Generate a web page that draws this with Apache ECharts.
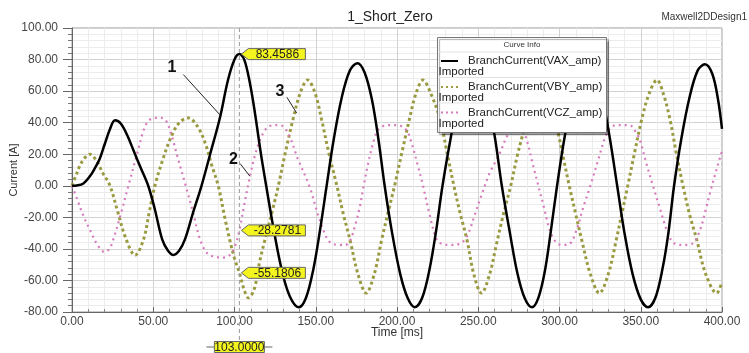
<!DOCTYPE html>
<html><head><meta charset="utf-8">
<script src="https://cdn.jsdelivr.net/npm/echarts@6/dist/echarts.min.js"></script>
<style>html,body{margin:0;padding:0;background:#fff}#c{width:749px;height:353px}</style>
</head><body><div id="c"></div>
<script>
// ---- data (time [ms], current [A]) ----
const vaxData = [[0,0],[3,0.2],[7,1.5],[11,6],[14,11],[17,17],[20,26],[23.4,36],[26.5,41.5],[30,39.5],[34,32],[38,22],[42,12],[46.9,0],[51,-15],[55.5,-34],[59,-41],[62.4,-43.8],[66,-41],[69.5,-34],[74.5,-17],[79.7,0],[85,20],[91,43],[96,67],[100,80],[103,83.46],[106,80],[109.5,65],[112.6,46],[116,22],[119.5,0],[124,-27],[129,-53],[134,-70],[139.6,-77],[144,-71],[148.5,-53],[152.5,-29],[156.7,0],[161,29],[166,56],[171,73],[175.6,77.7],[180,72],[184.5,55],[188.5,30],[192.4,0],[197,-30],[202,-56],[206.5,-71],[211,-77],[215.5,-71],[220,-53],[224,-29],[228,0],[233,30],[238,56],[242.5,72],[247,77],[251.5,72],[256,55],[260.5,29],[264.5,0],[269.5,-30],[274,-55],[278.5,-71],[283,-77],[287,-71],[291,-54],[294.5,-30],[298.5,0],[303,30],[308,56],[312.5,72],[317.5,77],[322,72],[326.5,55],[331,30],[335.5,0],[340,-30],[345,-56],[350,-72],[354.5,-77],[359,-71],[363.5,-52],[367,-30],[370.5,0],[375,30],[380,56],[385,73],[389.5,77],[394,71],[397.5,55],[400,36]];
const vbyData = [[0,0],[3,8],[6,15],[11,20],[15,16],[19,8],[23.4,0],[28,-16],[33,-33],[38.8,-44],[44,-34],[47.5,-17],[51,0],[56,17],[61,31],[66,40],[71.6,43],[77,38],[82,27],[86,13],[90,0],[94,-20],[97,-34],[100,-46],[103,-55.18],[106,-66],[108.5,-71],[112,-66],[115.5,-48],[118.8,-34],[123,-17],[127,0],[131.5,22],[136,42],[140.5,59],[145,67],[149.5,59],[153.6,42],[158,21],[163,0],[167,-18],[171,-34],[176,-56],[181,-68],[186,-56],[190.6,-34],[194.5,-17],[198.5,0],[203,21],[207.6,42],[211.5,58],[216,67],[221,58],[226.5,42],[231,20],[235,0],[239,-18],[243,-34],[247.5,-57],[252,-68],[257,-56],[261,-38],[265.5,-18],[270,0],[274,19],[277.7,34],[282.5,56],[288,67],[293.5,56],[299,34],[302.5,17],[306,0],[310,-18],[313.6,-34],[319,-56],[324.5,-68],[330,-56],[335,-34],[338.5,-17],[342,0],[346,20],[350.6,42],[355,58],[360,67],[364,58],[368,42],[372,20],[376,0],[380,-18],[384.4,-34],[390,-56],[396.7,-68],[400,-61]];
const vczData = [[0,0],[3,-8],[7,-19],[12,-30],[16,-38],[20,-42],[23,-40],[25.4,-34],[30,-18],[34.7,0],[40,20],[44,35],[47,41],[51,43],[55,43],[58,41],[61,33],[65,18],[70,0],[74.5,-17],[78.8,-34],[83.4,-43],[88,-45],[93,-45.5],[97,-44],[100,-39],[103,-28.28],[106,-12],[109.5,6],[112.5,19],[115.7,29],[119,35.5],[122,38],[126,38.5],[130,37.5],[134,31],[139,17],[146,0],[151,-17],[155,-29],[158,-35],[161,-37],[164.5,-37.5],[168,-37.5],[171,-35],[174,-26],[177,-14],[179.5,0],[182,13],[185,26],[188,35],[192,38],[197,38.5],[202,38],[206,35],[209,27],[212.5,14],[216,0],[220,-18],[224.4,-34],[228,-37],[233,-37.5],[238,-37],[241,-35],[244,-30],[248,-18],[252,-6],[257,8],[263,20],[268,32],[272,37],[276,37.5],[279.8,29],[283.5,14],[287,0],[290.5,-14],[294,-28],[298,-36],[302,-37.5],[306,-37],[310.5,-28],[314.5,-14],[319,0],[324,17],[329,33],[333,38],[338,38.5],[344,38],[347,34],[349.5,29],[353.5,14],[357.5,0],[362,-15],[366,-28],[370,-36],[376,-37.5],[382,-36.5],[386.5,-28],[390,-15],[393,-3],[396,8],[398.8,18],[400,22]];

const seriesNames = ['BranchCurrent(VAX_amp)', 'BranchCurrent(VBY_amp)', 'BranchCurrent(VCZ_amp)'];
const markerTime = 103;
const markerValues = [83.4586, -28.2781, -55.1806];
const markerLabels = ['83.4586', '-28.2781', '-55.1806'];
const markerTimeLabel = '103.0000';
// curve annotations: [label, text pos (t,v), line start (t,v), line end (t,v)]
const notes = [
  ['1', [61.5, 75], [68.5, 70.5], [91, 45]],
  ['2', [99.3, 16.7], [103.5, 14], [109.5, 6]],
  ['3', [128, 60], [132.3, 56], [138.3, 46]]
];

(function () {
const FONT = '"Liberation Sans", Arial, sans-serif';
const colors = ['#000000', '#9a9a40', '#d77bbd'];

const chart = echarts.init(document.getElementById('c'), null, {renderer: 'canvas'});
const option = {
  animation: false,
  backgroundColor: '#fff',
  grid: {left: 72, right: 27, top: 28, bottom: 41, show: true, borderColor: '#999', borderWidth: 1, outerBoundsMode: 'none'},
  xAxis: {
    type: 'value', min: 0, max: 400, interval: 50,
    axisLine: {onZero: false, lineStyle: {color: '#666'}},
    axisTick: {show: true, inside: true, length: 5, lineStyle: {color: '#666'}},
    minorTick: {show: true, splitNumber: 5, length: 3, lineStyle: {color: '#888'}},
    splitLine: {show: true, lineStyle: {color: '#d2d2d2'}},
    minorSplitLine: {show: true, lineStyle: {color: '#ececec'}},
    axisLabel: {formatter: v => v.toFixed(2), fontFamily: FONT, fontSize: 12, color: '#444', margin: 4}
  },
  yAxis: {
    type: 'value', min: -80, max: 100, interval: 20,
    axisLine: {show: true, onZero: false, lineStyle: {color: '#666'}},
    axisTick: {show: true, inside: false, length: 9, lineStyle: {color: '#666'}},
    minorTick: {show: true, splitNumber: 5, length: 4, lineStyle: {color: '#777'}},
    splitLine: {show: true, lineStyle: {color: '#d2d2d2'}},
    minorSplitLine: {show: true, lineStyle: {color: '#ececec'}},
    axisLabel: {formatter: v => v.toFixed(2), fontFamily: FONT, fontSize: 12, color: '#444', margin: 14}
  },
  series: [
    {name: seriesNames[0], type: 'line', data: vaxData, showSymbol: false, smooth: 0.35, z: 4,
     lineStyle: {color: colors[0], width: 2.5}},
    {name: seriesNames[1], type: 'line', data: vbyData, showSymbol: false, smooth: 0.35, z: 3,
     lineStyle: {color: colors[1], width: 3, type: [3, 3]}},
    {name: seriesNames[2], type: 'line', data: vczData, showSymbol: false, smooth: 0.35, z: 3,
     lineStyle: {color: colors[2], width: 2.2, type: [2, 4]}}
  ]
};
chart.setOption(option);

const px = (t, v) => chart.convertToPixel({gridIndex: 0}, [t, v]);
const g = [];
const TOP = 1; // upper zlevel so overlays cover the curves
g.push({type: 'text', x: 390, y: 17, style: {text: '1_Short_Zero', align: 'center', verticalAlign: 'middle', font: '14px ' + FONT, fill: '#222'}});
g.push({type: 'text', x: 747, y: 17, style: {text: 'Maxwell2DDesign1', align: 'right', verticalAlign: 'middle', font: '10px ' + FONT, fill: '#333'}});
// axis names
const midY = (px(0, 100)[1] + px(0, -80)[1]) / 2;
const midX = (px(0, 0)[0] + px(400, 0)[0]) / 2;
g.push({type: 'text', x: 14, y: midY, rotation: Math.PI / 2, style: {text: 'Current [A]', align: 'center', verticalAlign: 'middle', font: '11px ' + FONT, fill: '#333'}});
g.push({type: 'text', x: midX, y: px(0, -80)[1] + 21, style: {text: 'Time [ms]', align: 'center', verticalAlign: 'middle', font: '12px ' + FONT, fill: '#333'}});

const topPt = px(markerTime, 100), botPt = px(markerTime, -80);
const yb = botPt[1] + 35;
const mx = topPt[0];
g.push({type: 'line', zlevel: TOP, z: 1, shape: {x1: mx, y1: topPt[1], x2: mx, y2: yb - 5.5}, style: {stroke: '#999', lineWidth: 1, lineDash: [4, 3]}});
[
  {type: 'line', shape: {x1: mx - 33, y1: yb, x2: mx - 25, y2: yb}, style: {stroke: '#666', lineWidth: 1}},
  {type: 'line', shape: {x1: mx + 25, y1: yb, x2: mx + 33, y2: yb}, style: {stroke: '#666', lineWidth: 1}},
  {type: 'rect', shape: {x: mx - 25, y: yb - 5.5, width: 50, height: 11}, style: {fill: '#f4f41e', stroke: '#666', lineWidth: 1}},
  {type: 'text', x: mx, y: yb + 0.5, style: {text: markerTimeLabel, align: 'center', verticalAlign: 'middle', font: '12px ' + FONT, fill: '#222'}}
].forEach((e, k) => { e.zlevel = TOP; e.z = 10 + k; g.push(e); });
markerValues.forEach((v, i) => {
  const p = px(markerTime, v);
  const x0 = p[0] + 2, y = p[1], h = 11;
  g.push({type: 'polygon', zlevel: TOP, z: 10, shape: {points: [[x0, y], [x0 + 7, y - h / 2], [x0 + 64, y - h / 2], [x0 + 64, y + h / 2], [x0 + 7, y + h / 2]]}, style: {fill: '#f4f41e', stroke: '#666', lineWidth: 1}});
  g.push({type: 'text', zlevel: TOP, z: 11, x: x0 + 36, y: y + 0.5, style: {text: markerLabels[i], align: 'center', verticalAlign: 'middle', font: '12px ' + FONT, fill: '#222'}});
});
notes.forEach(n => {
  const tp = px(n[1][0], n[1][1]), a = px(n[2][0], n[2][1]), b = px(n[3][0], n[3][1]);
  g.push({type: 'text', zlevel: TOP, z: 5, x: tp[0], y: tp[1], style: {text: n[0], align: 'center', verticalAlign: 'middle', font: 'bold 16px ' + FONT, fill: '#111'}});
  g.push({type: 'line', zlevel: TOP, z: 5, shape: {x1: a[0], y1: a[1], x2: b[0], y2: b[1]}, style: {stroke: '#222', lineWidth: 1}});
});
const L = {x: 437.5, y: 37.5, w: 169, h: 95};
const leg = [
  {type: 'rect', shape: {x: L.x, y: L.y, width: L.w, height: L.h}, style: {fill: '#fff', stroke: '#777', lineWidth: 1, shadowColor: 'rgba(0,0,0,0.35)', shadowOffsetX: 2, shadowOffsetY: 2, shadowBlur: 1}},
  {type: 'text', x: L.x + L.w / 2, y: 45, style: {text: 'Curve Info', align: 'center', verticalAlign: 'middle', font: '8px ' + FONT, fill: '#333'}}
];
[52, 77.5, 103].forEach(yy => leg.push({type: 'line', shape: {x1: L.x + 1, y1: yy, x2: L.x + L.w - 1, y2: yy}, style: {stroke: '#e2e2e2', lineWidth: 1}}));
const entryY = [61, 87, 112.5];
const sampleStyles = [
  {stroke: colors[0], lineWidth: 2},
  {stroke: colors[1], lineWidth: 2, lineDash: [2, 3]},
  {stroke: colors[2], lineWidth: 2, lineDash: [2, 3]}
];
seriesNames.forEach((nm, i) => {
  const yy = entryY[i];
  leg.push({type: 'line', shape: {x1: 441, y1: yy, x2: 458, y2: yy}, style: sampleStyles[i]});
  leg.push({type: 'text', x: 468, y: yy, style: {text: nm, align: 'left', verticalAlign: 'middle', font: '11.5px ' + FONT, fill: '#222'}});
  leg.push({type: 'text', x: 438.5, y: yy + 11, style: {text: 'Imported', align: 'left', verticalAlign: 'middle', font: '11.5px ' + FONT, fill: '#222'}});
});
leg.forEach((e, k) => { e.zlevel = TOP; e.z = 20 + k; g.push(e); });

chart.setOption({graphic: g});
})();
</script>
</body></html>
